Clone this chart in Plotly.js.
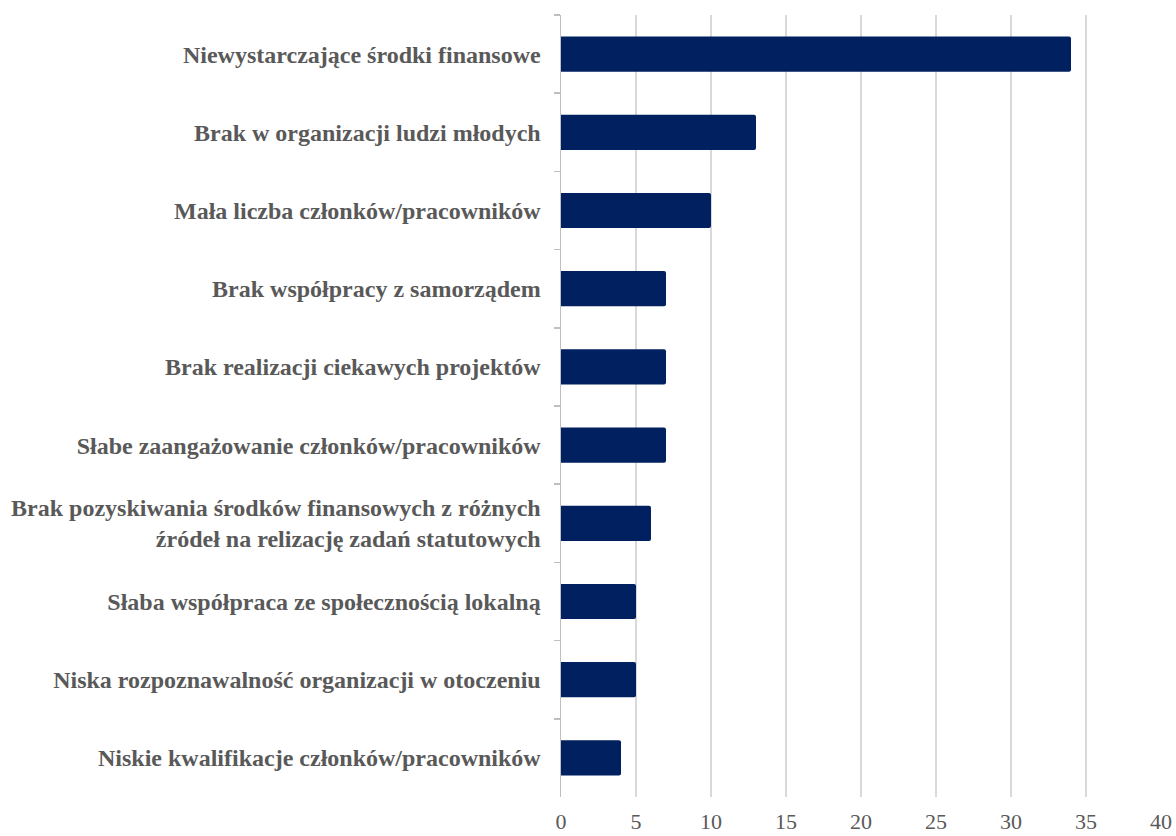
<!DOCTYPE html>
<html>
<head>
<meta charset="utf-8">
<script src="https://cdn.plot.ly/plotly-3.0.1.min.js"></script>
<style>html,body{margin:0;padding:0;background:#fff;}#chart{width:1176px;height:836px;}</style>
</head>
<body>
<div id="chart"></div>
<script>
const categories = [
  "Niewystarczające środki finansowe",
  "Brak w organizacji ludzi młodych",
  "Mała liczba członków/pracowników",
  "Brak współpracy z samorządem",
  "Brak realizacji ciekawych projektów",
  "Słabe zaangażowanie członków/pracowników",
  "Brak pozyskiwania środków finansowych z różnych<br>źródeł na relizację zadań statutowych",
  "Słaba współpraca ze społecznością lokalną",
  "Niska rozpoznawalność organizacji w otoczeniu",
  "Niskie kwalifikacje członków/pracowników"
];
const values = [34, 13, 10, 7, 7, 7, 6, 5, 5, 4];
const xTicks = [0, 5, 10, 15, 20, 25, 30, 35, 40];

const trace = {
  type: 'bar',
  orientation: 'h',
  x: values,
  y: categories,
  marker: {color: '#002060', cornerradius: 2},
  hoverinfo: 'x+y'
};

const layout = {
  width: 1176,
  height: 836,
  margin: {l: 561, r: 15, t: 15, b: 39},
  paper_bgcolor: '#ffffff',
  plot_bgcolor: '#ffffff',
  bargap: 0.55,
  showlegend: false,
  xaxis: {
    range: [0, 40],
    tickvals: xTicks,
    ticktext: xTicks.map(String),
    showgrid: true,
    gridcolor: '#d9d9d9',
    gridwidth: 1.5,
    zeroline: false,
    showline: false,
    ticks: '',
    tickfont: {family: '"Liberation Serif", "Times New Roman", serif', size: 22, color: '#595959'},
    ticklabelstandoff: 9
  },
  yaxis: {
    autorange: 'reversed',
    type: 'category',
    showgrid: false,
    zeroline: false,
    showline: true,
    linecolor: '#bfbfbf',
    linewidth: 1.5,
    ticks: 'outside',
    tickson: 'boundaries',
    ticklen: 6,
    tickcolor: '#bfbfbf',
    tickwidth: 1.5,
    ticklabelstandoff: 14,
    tickfont: {family: '"Liberation Serif", "Times New Roman", serif', size: 24, color: '#595959', weight: 'bold'}
  }
};

Plotly.newPlot('chart', [trace], layout, {displayModeBar: false, staticPlot: true});
</script>
</body>
</html>
